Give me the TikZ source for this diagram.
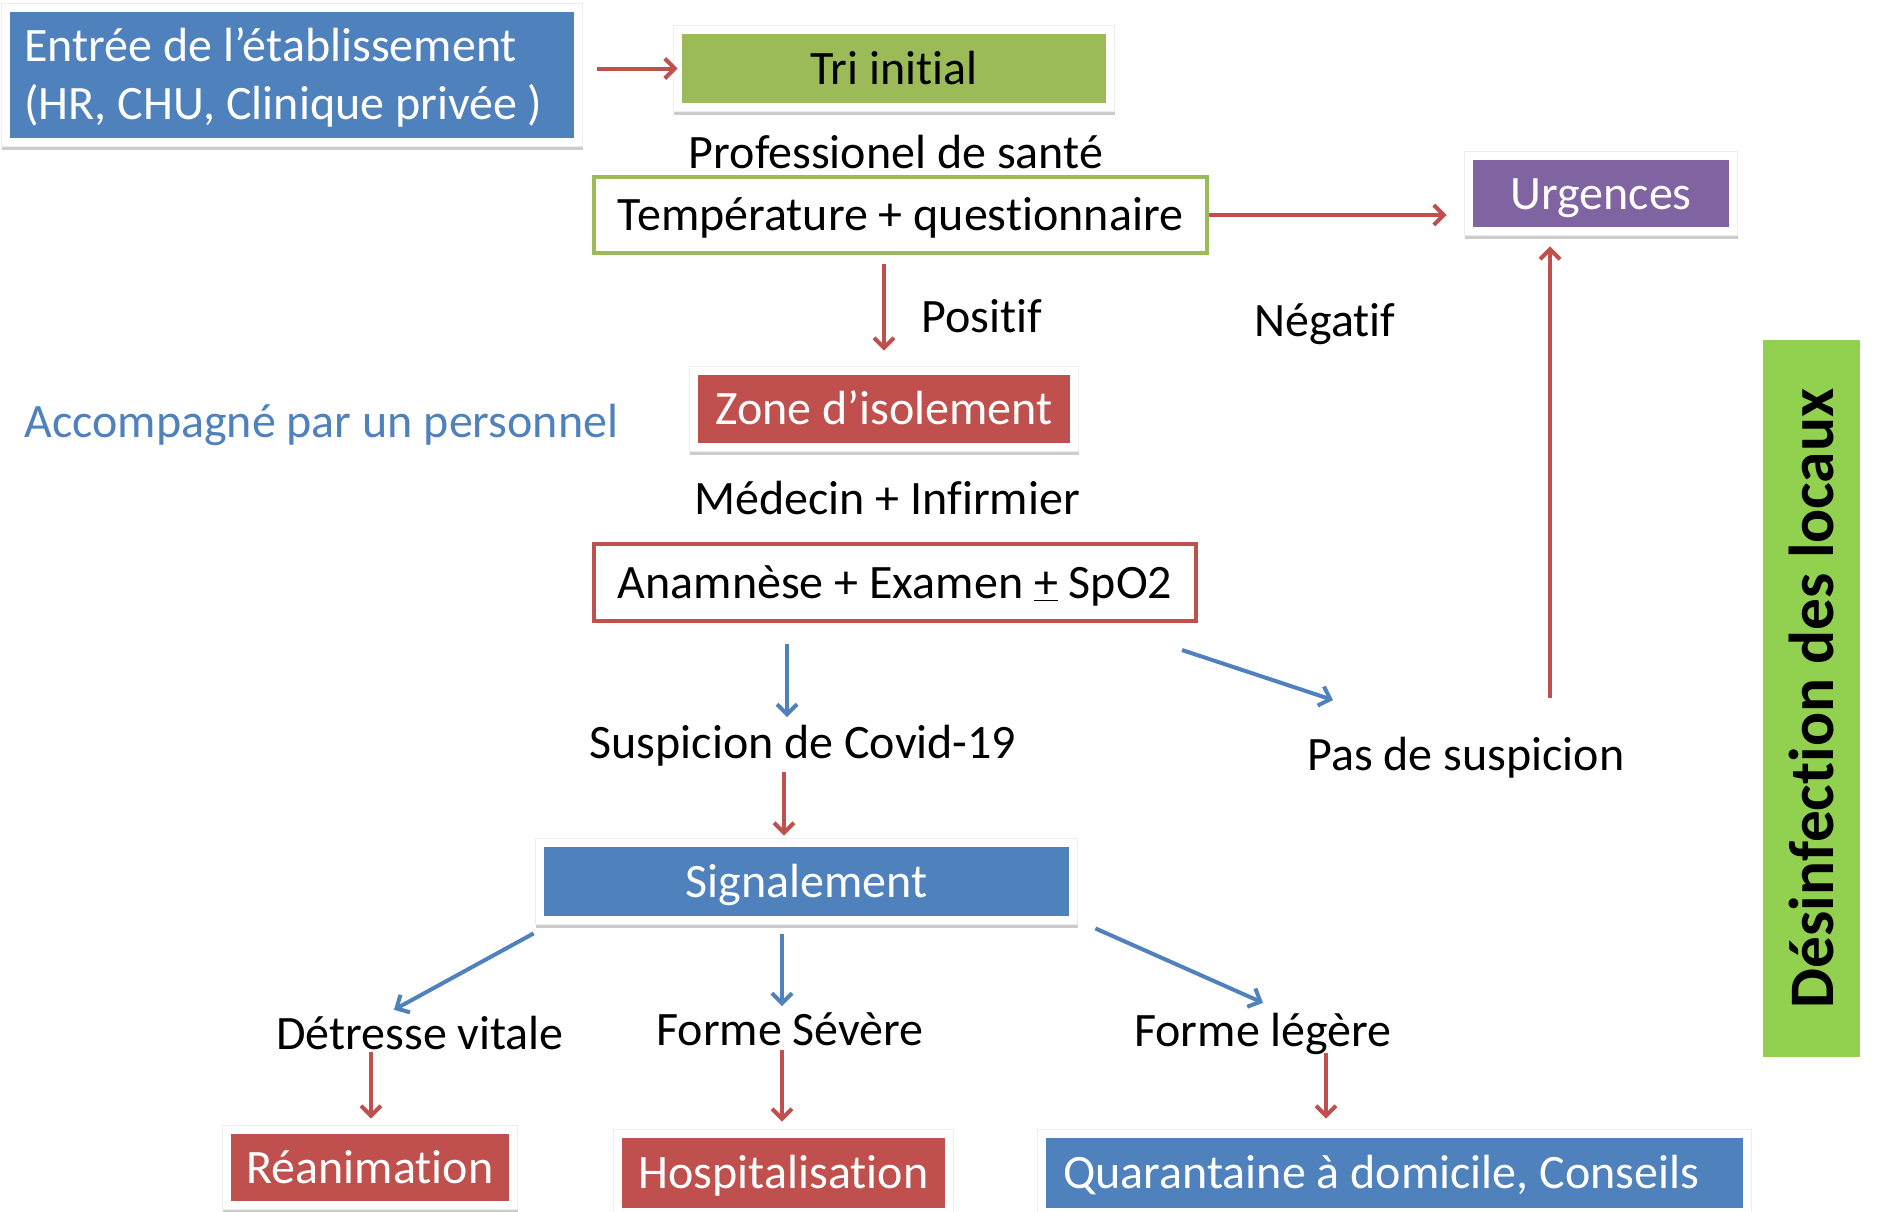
\documentclass[tikz,border=0pt]{standalone}
\usepackage{fontspec}
\setmainfont{Carlito}[Ligatures=NoCommon]
\usetikzlibrary{arrows.meta,shadows,fit}
\pgfdeclarelayer{bg}
\pgfsetlayers{bg,main}
\definecolor{cblue}{HTML}{4F81BD}
\definecolor{cgreen}{HTML}{9BBB59}
\definecolor{cred}{HTML}{C0504D}
\definecolor{cpurple}{HTML}{8064A2}
\definecolor{cbar}{HTML}{92D050}
\begin{document}
\begin{tikzpicture}[x=0.5pt,y=-0.5pt,
  font=\fontsize{24pt}{29pt}\selectfont,
  fbox/.style={rectangle, inner sep=0pt, text=white, text height=18pt, text depth=2.5pt},
  wframe/.style={rectangle, fill=white, draw=black!7, line width=0.4pt, inner sep=4pt,
    drop shadow={shadow xshift=0.3pt, shadow yshift=-1.6pt, opacity=0.2, fill=black}},
  obox/.style={rectangle, fill=white, line width=2pt, inner sep=0pt, text height=18pt, text depth=2.5pt},
  lbl/.style={inner sep=0pt},
  arrowtip/.style={-{Straight Barb[length=5pt,width=10pt]}},
  rarr/.style={draw=cred, line width=2pt, arrowtip},
  barr/.style={draw=cblue, line width=2pt, arrowtip}]
\useasboundingbox (0,0) rectangle (1883,1211);

% coloured boxes
\node[fbox, fill=cblue, minimum width=282pt, minimum height=63pt] (e) at (292,75) {};
\node[lbl, anchor=west, text=white, align=left] (et) at (24,77)
  {Entrée de l’établissement\\(HR, CHU, Clinique privée )};
\node[fbox, fill=cgreen, text=black, minimum width=212pt, minimum height=34.5pt] (t) at (894,68.5) {Tri initial};
\node[fbox, fill=cpurple, minimum width=128pt, minimum height=33.5pt] (u) at (1601,193.5) {Urgences};
\node[fbox, fill=cred, minimum width=186pt, minimum height=34pt] (z) at (884,409) {Zone d’isolement};
\node[fbox, fill=cblue, minimum width=262.5pt, minimum height=34.5pt] (sg) at (806.5,881.5) {Signalement};
\node[fbox, fill=cred, minimum width=139pt, minimum height=33.5pt] (re) at (370,1167.5) {Réanimation};
\node[fbox, fill=cred, minimum width=161.5pt, minimum height=35pt] (ho) at (783.5,1173) {Hospitalisation};
\node[fbox, fill=cblue, minimum width=348.5pt, minimum height=35pt] (qu) at (1394.5,1173) {};
\node[fbox, anchor=west] (qt) at (1063,1173) {Quarantaine à domicile, Conseils};

% white frames with shadows
\begin{pgfonlayer}{bg}
\node[wframe, fit=(e)] (ef) {};
\node[wframe, fit=(t)] (tf) {};
\node[wframe, fit=(u)] (uf) {};
\node[wframe, fit=(z)] (zf) {};
\node[wframe, fit=(sg)] (sgf) {};
\node[wframe, fit=(re)] (ref) {};
\node[wframe, fit=(ho)] (hof) {};
\node[wframe, fit=(qu)] (quf) {};
\end{pgfonlayer}

% outlined boxes
\node[obox, draw=cgreen, minimum width=306.5pt, minimum height=38pt] (tp) at (900.5,215) {Température + questionnaire};
\node[obox, draw=cred, minimum width=301pt, minimum height=38.5pt] (an) at (895,582.5) {Anamnèse + Examen \underline{+} SpO2};

% side bar
\node[rectangle, fill=cbar, rotate=90, minimum width=358.5pt, minimum height=48.5pt, inner sep=0pt,
  font=\fontsize{31.7pt}{36pt}\selectfont\bfseries] (des) at (1811.5,698.5) {Désinfection des locaux};

% labels
\node[lbl] (pro) at (896,152) {Professionel de santé};
\node[lbl] (pos) at (982,316) {Positif};
\node[lbl] (neg) at (1325,324) {Négatif};
\node[lbl, anchor=west, text=cblue] (acc) at (24,425) {Accompagné par un personnel};
\node[lbl] (med) at (887,498) {Médecin + Infirmier};
\node[lbl] (su) at (803,746) {Suspicion de Covid-19};
\node[lbl] (pas) at (1466,758) {Pas de suspicion};
\node[lbl] (dv) at (420,1033) {Détresse vitale};
\node[lbl] (fs) at (790,1029) {Forme Sévère};
\node[lbl] (fl) at (1263,1034) {Forme légère};

% connectors
\draw[rarr, shorten <=11.5pt, shorten >=2pt] (e.east |- t.west) -- (t.west);
\draw[rarr, shorten >=13pt] (tp.east) -- (tp.east -| u.west);
\draw[rarr, shorten <=4.5pt, shorten >=12pt] (z.north |- tp.south) -- (z.north);
\draw[barr, shorten <=10.5pt, shorten >=4pt] ([xshift=-54pt]an.south) -- ([xshift=-54pt]an.south |- su.north);
\draw[barr] ([xshift=-8pt,yshift=-13.5pt]an.south east) -- ([xshift=13pt,yshift=18.5pt]pas.north west);
\draw[rarr, shorten >=9.5pt] ([xshift=42pt,yshift=19.5pt]pas.north) -- ([xshift=42pt]pas.north |- u.south);
\draw[rarr, shorten <=2.5pt, shorten >=5.5pt] ([xshift=-9.5pt]su.south) -- ([xshift=-9.5pt]su.south |- sg.north);
\draw[barr] ([xshift=-5pt,yshift=-8.5pt]sg.south west) -- ([xshift=-13pt,yshift=3pt]dv.north);
\draw[barr, shorten <=9pt, shorten >=3pt] ([xshift=-12.25pt]sg.south) -- ([xshift=-12.25pt]sg.south |- fs.north);
\draw[barr] ([xshift=13pt,yshift=-6pt]sg.south east) -- ([yshift=5pt]fl.north);
\draw[rarr, shorten <=1pt, shorten >=7.5pt] ([xshift=-24.5pt]dv.south) -- ([xshift=-24.5pt]dv.south |- re.north);
\draw[rarr, shorten <=2pt, shorten >=8pt] ([xshift=-4pt]fs.south) -- ([xshift=-4pt]fs.south |- ho.north);
\draw[rarr, shorten <=-1pt, shorten >=9.5pt] ([xshift=31.5pt]fl.south) -- ([xshift=31.5pt]fl.south |- qu.north);
\end{tikzpicture}
\end{document}
